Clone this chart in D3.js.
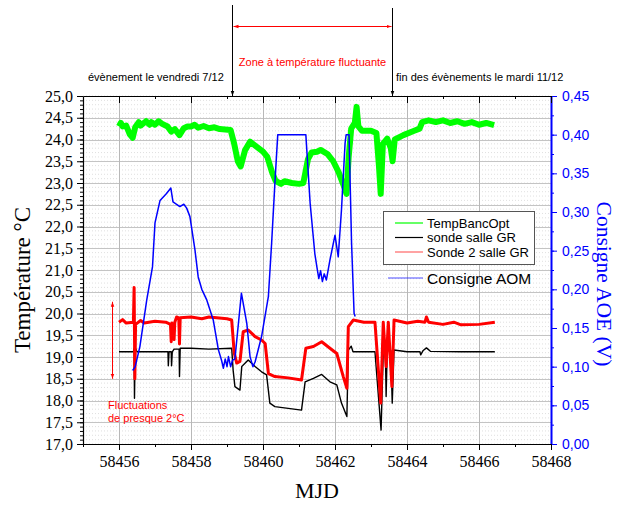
<!DOCTYPE html>
<html><head><meta charset="utf-8">
<script src="https://cdn.jsdelivr.net/npm/d3@7"></script>
<style>body{margin:0;background:#fff}svg{display:block}</style>
</head><body><svg id="c" width="617" height="505"></svg>
<script>
// ---- data (MJD, value) ----
const tempBancOpt = [[58456.0,24.3],[58456.05,24.38],[58456.1,24.3],[58456.2,24.32],[58456.3,24.12],[58456.38,24.04],[58456.45,24.28],[58456.55,24.4],[58456.6,24.32],[58456.75,24.42],[58456.85,24.34],[58456.9,24.4],[58457.0,24.34],[58457.1,24.42],[58457.2,24.36],[58457.35,24.3],[58457.45,24.18],[58457.55,24.24],[58457.68,24.1],[58457.8,24.26],[58457.9,24.3],[58458.0,24.3],[58458.1,24.34],[58458.2,24.27],[58458.35,24.31],[58458.5,24.26],[58458.65,24.28],[58458.8,24.24],[58459.1,24.22],[58459.2,23.9],[58459.3,23.5],[58459.38,23.38],[58459.5,23.75],[58459.64,23.95],[58459.8,23.85],[58460.0,23.72],[58460.12,23.6],[58460.25,23.25],[58460.35,23.05],[58460.5,22.98],[58460.6,23.04],[58460.8,23.0],[58461.0,22.98],[58461.12,23.0],[58461.25,23.55],[58461.35,23.7],[58461.5,23.72],[58461.6,23.76],[58461.8,23.66],[58461.95,23.5],[58462.1,23.25],[58462.25,22.92],[58462.32,22.75],[58462.38,23.6],[58462.45,24.25],[58462.55,24.38],[58462.6,24.75],[58462.65,24.3],[58462.75,24.2],[58463.0,24.2],[58463.15,24.15],[58463.22,23.4],[58463.27,22.75],[58463.33,23.9],[58463.45,24.02],[58463.55,23.8],[58463.6,23.5],[58463.66,24.0],[58463.9,24.1],[58464.2,24.2],[58464.35,24.25],[58464.42,24.4],[58464.6,24.44],[58464.8,24.4],[58465.0,24.44],[58465.2,24.38],[58465.4,24.42],[58465.6,24.36],[58465.8,24.4],[58466.0,24.34],[58466.2,24.38],[58466.42,24.33]];
const sondeSalleGR = [[58456.0,19.12],[58456.4,19.12],[58456.42,19.2],[58456.43,18.05],[58456.45,19.22],[58456.5,19.12],[58457.0,19.12],[58457.36,19.12],[58457.37,18.8],[58457.39,19.12],[58457.45,19.12],[58457.46,18.8],[58457.48,19.12],[58457.53,19.18],[58457.67,19.18],[58457.68,18.55],[58457.7,19.2],[58458.0,19.2],[58458.5,19.18],[58459.13,19.2],[58459.17,18.7],[58459.22,18.32],[58459.36,18.24],[58459.41,18.78],[58459.59,18.93],[58459.78,18.78],[58459.96,18.66],[58460.1,18.59],[58460.19,17.94],[58460.33,17.86],[58460.7,17.82],[58461.07,17.78],[58461.17,18.43],[58461.4,18.51],[58461.63,18.6],[58461.86,18.43],[58462.05,18.36],[58462.18,17.94],[58462.33,17.63],[58462.37,19.16],[58462.45,19.25],[58462.5,19.12],[58463.11,19.12],[58463.28,17.32],[58463.34,19.1],[58463.4,19.12],[58463.42,18.09],[58463.45,19.15],[58463.55,19.15],[58463.59,17.94],[58463.64,19.16],[58464.0,19.12],[58464.36,19.12],[58464.38,19.05],[58464.45,19.15],[58464.54,19.21],[58464.65,19.13],[58465.5,19.12],[58466.44,19.12]];
const sonde2SalleGR = [[58456.0,19.8],[58456.1,19.86],[58456.2,19.78],[58456.4,19.8],[58456.42,20.6],[58456.44,18.5],[58456.46,19.75],[58456.6,19.84],[58456.7,19.78],[58457.0,19.82],[58457.3,19.8],[58457.43,19.75],[58457.45,19.35],[58457.47,19.78],[58457.53,19.4],[58457.55,19.8],[58457.6,19.92],[58457.66,19.9],[58457.68,19.3],[58457.7,19.9],[58458.0,19.92],[58458.3,19.88],[58458.5,19.92],[58459.0,19.88],[58459.13,19.85],[58459.2,19.1],[58459.27,18.86],[58459.36,18.9],[58459.45,19.58],[58459.59,19.62],[58459.78,19.47],[58459.96,19.39],[58460.06,19.31],[58460.15,18.62],[58460.33,18.55],[58460.7,18.52],[58461.07,18.47],[58461.19,19.2],[58461.4,19.24],[58461.63,19.35],[58461.86,19.2],[58462.05,19.08],[58462.23,18.55],[58462.33,18.28],[58462.37,19.7],[58462.51,19.85],[58462.8,19.8],[58463.11,19.8],[58463.27,17.94],[58463.34,19.8],[58463.42,18.78],[58463.48,19.8],[58463.58,18.32],[58463.64,19.85],[58464.0,19.78],[58464.3,19.82],[58464.5,19.8],[58464.54,19.92],[58464.6,19.8],[58465.0,19.75],[58465.3,19.8],[58465.5,19.74],[58466.0,19.75],[58466.44,19.8]];
const consigneAOM = [[58456.38,0.095],[58456.45,0.10],[58456.58,0.126],[58456.77,0.186],[58456.93,0.229],[58457.0,0.286],[58457.14,0.315],[58457.32,0.324],[58457.44,0.331],[58457.5,0.313],[58457.6,0.31],[58457.69,0.307],[58457.8,0.31],[58457.88,0.305],[58457.97,0.294],[58458.11,0.251],[58458.2,0.216],[58458.3,0.20],[58458.44,0.186],[58458.62,0.160],[58458.76,0.122],[58458.85,0.108],[58458.9,0.098],[58458.95,0.11],[58459.0,0.1],[58459.04,0.113],[58459.1,0.1],[58459.15,0.108],[58459.22,0.11],[58459.4,0.195],[58459.55,0.156],[58459.64,0.113],[58459.72,0.1],[58459.78,0.106],[58459.96,0.139],[58460.15,0.191],[58460.24,0.26],[58460.33,0.337],[58460.41,0.40],[58461.19,0.40],[58461.31,0.311],[58461.44,0.246],[58461.5,0.228],[58461.55,0.214],[58461.6,0.224],[58461.65,0.21],[58461.7,0.22],[58461.76,0.212],[58461.86,0.238],[58462.0,0.27],[58462.09,0.242],[58462.18,0.303],[58462.28,0.389],[58462.31,0.40],[58462.39,0.40],[58462.46,0.26],[58462.53,0.169],[58462.56,0.165]];

const leftTicks = [17,17.5,18,18.5,19,19.5,20,20.5,21,21.5,22,22.5,23,23.5,24,24.5,25];
const rightTicks = [0,0.05,0.1,0.15,0.2,0.25,0.3,0.35,0.4,0.45];
const xTicks = [58456,58458,58460,58462,58464,58466,58468];
const legendNames = ["TempBancOpt","sonde salle GR","Sonde 2 salle GR"];
const rightLegendName = "Consigne AOM";
const eventStart = 58459.14, eventEnd = 58463.58;
const eventStartLabel = "évènement le vendredi 7/12";
const eventEndLabel = "fin des évènements le mardi 11/12";
const zoneLabel = "Zone à température fluctuante";
const fluctLabel = ["Fluctuations","de presque 2°C"];
const fluctRange = [20.27, 18.5];

// ---- layout ----
const svg = d3.select("#c");
const L=83, R=551, T=96, B=444;
const x = d3.scaleLinear().domain([58455,58468]).range([L,R]);
const yL = d3.scaleLinear().domain([17,25]).range([B,T]);
const yR = d3.scaleLinear().domain([0,0.45]).range([B,T]);
const serif = "'Liberation Serif','Times New Roman',serif";
const sans = "'Liberation Sans',Arial,sans-serif";

// grid
const g = svg.append("g");
d3.range(17,25.001,0.1).forEach(v=>{
  g.append("line").attr("x1",L).attr("x2",R).attr("y1",yL(v)).attr("y2",yL(v))
   .attr("stroke","#d8d8d8").attr("stroke-width",0.8).attr("stroke-dasharray","1,2");
});
leftTicks.forEach(v=>{
  g.append("line").attr("x1",L).attr("x2",R).attr("y1",Math.round(yL(v))+0.5).attr("y2",Math.round(yL(v))+0.5)
   .attr("stroke","#c4c4c4").attr("stroke-width",1);
});
xTicks.forEach(v=>{
  g.append("line").attr("x1",Math.round(x(v))+0.5).attr("x2",Math.round(x(v))+0.5).attr("y1",T).attr("y2",B)
   .attr("stroke","#b8b8b8").attr("stroke-width",1);
});

// series
const lineL = d3.line().x(d=>x(d[0])).y(d=>yL(d[1]));
const lineR = d3.line().x(d=>x(d[0])).y(d=>yR(d[1]));
svg.append("path").datum(tempBancOpt).attr("d",lineL).attr("fill","none").attr("stroke","#00ff00").attr("stroke-width",6).attr("stroke-linejoin","round");
svg.append("path").datum(sondeSalleGR).attr("d",lineL).attr("fill","none").attr("stroke","#000").attr("stroke-width",1.4).attr("stroke-linejoin","round");
svg.append("path").datum(sonde2SalleGR).attr("d",lineL).attr("fill","none").attr("stroke","#ff0000").attr("stroke-width",3).attr("stroke-linejoin","round");
svg.append("path").datum(consigneAOM).attr("d",lineR).attr("fill","none").attr("stroke","#0000ff").attr("stroke-width",1.5).attr("stroke-linejoin","round");

// axes
function styleAxis(sel, color, font, size){
  sel.select(".domain").attr("stroke",color).attr("stroke-width",1.2);
  sel.selectAll(".tick line").attr("stroke",color);
  sel.selectAll(".tick text").attr("fill",color).style("font-family",font).style("font-size",size+"px");
}
const fmt1 = d=>d.toFixed(1).replace(".",",");
const fmt2 = d=>d.toFixed(2).replace(".",",");
svg.append("g").attr("transform",`translate(${L},0)`)
  .call(d3.axisLeft(yL).tickValues(d3.range(17,25.001,0.1)).tickSize(3).tickFormat("").tickSizeOuter(0))
  .call(s=>{s.select(".domain").remove(); s.selectAll("line").attr("stroke","#000");});
svg.append("g").attr("transform",`translate(${L},0)`)
  .call(d3.axisLeft(yL).tickValues(leftTicks).tickSize(6).tickPadding(4).tickFormat(fmt1).tickSizeOuter(0))
  .call(s=>styleAxis(s,"#000",serif,16));
svg.append("g").attr("transform",`translate(${R},0)`)
  .call(d3.axisRight(yR).tickValues(d3.range(0,0.4501,0.025)).tickSize(3).tickFormat("").tickSizeOuter(0))
  .call(s=>{s.select(".domain").remove(); s.selectAll("line").attr("stroke","#0000ff");});
svg.append("g").attr("transform",`translate(${R},0)`)
  .call(d3.axisRight(yR).tickValues(rightTicks).tickSize(6).tickPadding(5).tickFormat(fmt2).tickSizeOuter(0))
  .call(s=>{styleAxis(s,"#0000ff",sans,14); s.select(".domain").attr("stroke-width",2);});
svg.append("g").attr("transform",`translate(0,${B})`)
  .call(d3.axisBottom(x).tickValues(d3.range(58455,58468.01,1)).tickSize(3).tickFormat("").tickSizeOuter(0))
  .call(s=>{s.select(".domain").remove(); s.selectAll("line").attr("stroke","#000");});
svg.append("g").attr("transform",`translate(0,${B})`)
  .call(d3.axisBottom(x).tickValues(xTicks).tickSize(6).tickPadding(6).tickFormat(d3.format("d")).tickSizeOuter(0))
  .call(s=>styleAxis(s,"#000",serif,16));
svg.append("g").attr("transform",`translate(0,${T})`)
  .call(d3.axisTop(x).tickValues(d3.range(58456,58468.01,1).filter(v=>v%2===1)).tickSize(-3).tickFormat("").tickSizeOuter(0))
  .call(s=>{s.select(".domain").attr("stroke","#000").attr("stroke-width",1.2); s.selectAll("line").attr("stroke","#000");});
svg.append("g").attr("transform",`translate(0,${T})`)
  .call(d3.axisTop(x).tickValues(xTicks).tickSize(-7).tickFormat("").tickSizeOuter(0))
  .call(s=>{s.select(".domain").remove(); s.selectAll("line").attr("stroke","#000");});

// titles
svg.append("text").attr("transform",`translate(30,${(T+B)/2+10}) rotate(-90)`).attr("text-anchor","middle")
  .style("font-family",serif).style("font-size","23px").text("Température °C");
svg.append("text").attr("transform",`translate(597,${(T+B)/2+14}) rotate(90)`).attr("text-anchor","middle")
  .attr("fill","#0000ff").style("font-family",serif).style("font-size","21.5px").text("Consigne AOE (V)");
svg.append("text").attr("x",317).attr("y",498).attr("text-anchor","middle")
  .style("font-family",serif).style("font-size","22px").text("MJD");

// legend
const colors = ["#00ff00","#000000","#ff0000"];
svg.append("rect").attr("x",383.5).attr("y",211.5).attr("width",151).attr("height",53).attr("fill","#fff").attr("stroke","#555");
legendNames.forEach((n,i)=>{
  const yy = 223 + i*14.5;
  svg.append("line").attr("x1",395).attr("x2",423).attr("y1",yy).attr("y2",yy).attr("stroke",colors[i]).attr("stroke-width",1.2).attr("stroke-opacity",i===2?0.6:1);
  svg.append("text").attr("x",427).attr("y",yy+4.5).style("font-family",sans).style("font-size","13px").text(n);
});
svg.append("line").attr("x1",388).attr("x2",423).attr("y1",278).attr("y2",278).attr("stroke","#0000ff").attr("stroke-width",1.2).attr("stroke-opacity",0.7);
svg.append("text").attr("x",427).attr("y",283.5).style("font-family",sans).style("font-size","15.5px").text(rightLegendName);

// annotations
const defs = svg.append("defs");
function marker(id,color){
  defs.append("marker").attr("id",id).attr("viewBox","0 0 10 10").attr("refX",10).attr("refY",5)
    .attr("markerWidth",5).attr("markerHeight",5).attr("orient","auto-start-reverse").attr("markerUnits","userSpaceOnUse")
    .append("path").attr("d","M0,1.5L10,5L0,8.5Z").attr("fill",color);
}
marker("ab","#000"); marker("ar","#ff0000");
const xs = Math.round(x(eventStart))+0.5, xe = Math.round(x(eventEnd))+0.5;
svg.append("line").attr("x1",xs).attr("x2",xs).attr("y1",5).attr("y2",T).attr("stroke","#000").attr("stroke-width",1).attr("marker-end","url(#ab)");
svg.append("line").attr("x1",xe).attr("x2",xe).attr("y1",8).attr("y2",T).attr("stroke","#000").attr("stroke-width",1).attr("marker-end","url(#ab)");
svg.append("line").attr("x1",xs+1).attr("x2",xe-1).attr("y1",26.5).attr("y2",26.5).attr("stroke","#ff0000").attr("stroke-width",1)
  .attr("marker-start","url(#ar)").attr("marker-end","url(#ar)");
svg.append("text").attr("x",(xs+xe)/2).attr("y",66).attr("text-anchor","middle").attr("fill","#ff0000")
  .style("font-family",sans).style("font-size","11px").text(zoneLabel);
svg.append("text").attr("x",88).attr("y",81).style("font-family",sans).style("font-size","11px").text(eventStartLabel);
svg.append("text").attr("x",396).attr("y",81).style("font-family",sans).style("font-size","11px").text(eventEndLabel);
const fx = 112.5;
svg.append("line").attr("x1",fx).attr("x2",fx).attr("y1",yL(fluctRange[0])).attr("y2",yL(fluctRange[1])).attr("stroke","#ff0000").attr("stroke-width",1)
  .attr("marker-start","url(#ar)").attr("marker-end","url(#ar)");
fluctLabel.forEach((t,i)=>{
  svg.append("text").attr("x",108).attr("y",409+i*12.7).attr("fill","#ff0000").style("font-family",sans).style("font-size","11px").text(t);
});
</script></body></html>
